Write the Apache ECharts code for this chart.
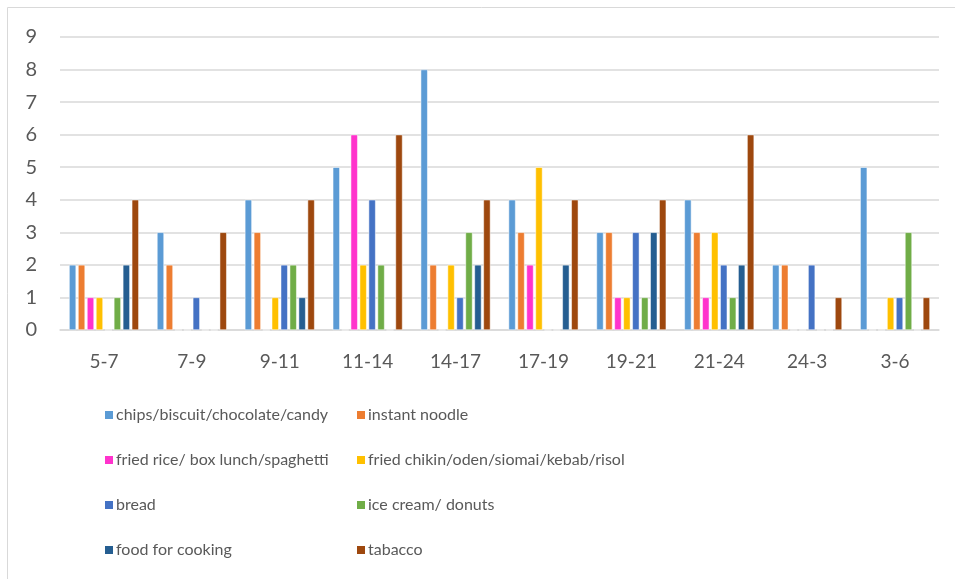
<!DOCTYPE html>
<html>
<head>
<meta charset="utf-8">
<script src="https://cdn.jsdelivr.net/npm/echarts@6/dist/echarts.min.js"></script>
<style>
  html, body { margin: 0; padding: 0; background: #fff; }
  #main { width: 955px; height: 579px; }
</style>
</head>
<body>
<div id="main"></div>
<script>
// 时间段
var categories = ['5-7', '7-9', '9-11', '11-14', '14-17', '17-19', '19-21', '21-24', '24-3', '3-6'];
var seriesNames = [
  'chips/biscuit/chocolate/candy',
  'instant noodle',
  'fried rice/ box lunch/spaghetti',
  'fried chikin/oden/siomai/kebab/risol',
  'bread',
  'ice cream/ donuts',
  'food for cooking',
  'tabacco'
];
var chips    = [2, 3, 4, 5, 8, 4, 3, 4, 2, 5];
var noodle   = [2, 2, 3, 0, 2, 3, 3, 3, 2, 0];
var rice     = [1, 0, 0, 6, 0, 2, 1, 1, 0, 0];
var chikin   = [1, 0, 1, 2, 2, 5, 1, 3, 0, 1];
var bread    = [0, 1, 2, 4, 1, 0, 3, 2, 2, 1];
var icecream = [1, 0, 2, 2, 3, 0, 1, 1, 0, 3];
var cooking  = [2, 0, 1, 0, 2, 2, 3, 2, 0, 0];
var tabacco  = [4, 3, 4, 6, 4, 4, 4, 6, 1, 1];
var yTicks = [0, 1, 2, 3, 4, 5, 6, 7, 8, 9];

var colors = ['#5B9BD5', '#ED7D31', '#FF33CC', '#FFC000', '#4472C4', '#70AD47', '#255E91', '#9E480E'];
var values = [chips, noodle, rice, chikin, bread, icecream, cooking, tabacco];

var font = "Lato, sans-serif";

var series = [];
for (var i = 0; i < seriesNames.length; i++) {
  series.push({
    name: seriesNames[i],
    type: 'bar',
    data: values[i],
    barWidth: 7,
    barGap: '28%',
    barCategoryGap: '20%',
    itemStyle: { color: colors[i], borderColor: '#fff', borderWidth: 0.5 }
  });
}

function legendCol(left, names) {
  return {
    orient: 'vertical',
    left: left,
    top: 407,
    padding: 0,
    itemGap: 29,
    itemWidth: 10,
    itemHeight: 10,
    icon: 'rect',
    data: names,
    textStyle: { color: '#595959', fontSize: 16, fontFamily: font, padding: [0, 0, 0, -3] }
  };
}

var myChart = echarts.init(document.getElementById('main'));
myChart.setOption({
  animation: false,
  color: colors,
  graphic: [{
    type: 'rect',
    shape: { x: 7.5, y: 7.5, width: 1000, height: 1000 },
    style: { fill: 'none', stroke: '#d9d9d9', lineWidth: 1 },
    silent: true
  }],
  grid: { left: 60, right: 16, top: 37, bottom: 249, containLabel: false },
  legend: [
    legendCol(103, [seriesNames[0], seriesNames[2], seriesNames[4], seriesNames[6]]),
    legendCol(355, [seriesNames[1], seriesNames[3], seriesNames[5], seriesNames[7]])
  ],
  xAxis: {
    type: 'category',
    data: categories,
    axisLine: { lineStyle: { color: '#d9d9d9', width: 1.5 } },
    axisTick: { show: false },
    axisLabel: { color: '#595959', fontSize: 19, fontFamily: font, margin: 22 }
  },
  yAxis: {
    type: 'value',
    min: yTicks[0],
    max: yTicks[yTicks.length - 1],
    interval: 1,
    axisLine: { show: false },
    axisTick: { show: false },
    splitLine: { lineStyle: { color: '#d9d9d9', width: 1.5 } },
    axisLabel: { color: '#595959', fontSize: 20, fontFamily: font, margin: 23 }
  },
  series: series
});
</script>
</body>
</html>
